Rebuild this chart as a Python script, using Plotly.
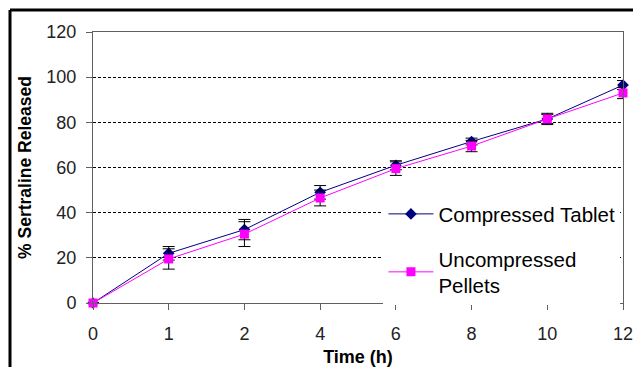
import plotly.graph_objects as go

times = ["0", "1", "2", "4", "6", "8", "10", "12"]
tablet = [0, 22, 32.5, 49, 61, 71.5, 81.5, 96.5]
tablet_err = [0, 3, 4.5, 3, 2, 1.5, 2, 2]
pellets = [0, 19.5, 30.5, 46.5, 59.5, 69.5, 81.5, 93]
pellets_err = [0, 4.5, 5.5, 3.5, 3, 2.5, 2.5, 2.5]
yticks = [0, 20, 40, 60, 80, 100, 120]

FONT = "Liberation Sans, Arial, sans-serif"

fig = go.Figure()
fig.add_trace(go.Scatter(
    x=times, y=tablet, name="Compressed Tablet", mode="lines+markers",
    legendgroup="a",
    line=dict(color="#000080", width=1),
    marker=dict(symbol="diamond", size=9, color="#000080"),
    error_y=dict(type="data", array=tablet_err, color="black", thickness=1, width=6),
    cliponaxis=False,
))
fig.add_trace(go.Scatter(
    x=times, y=pellets, name="Uncompressed<br>Pellets", mode="lines+markers",
    legendgroup="b",
    line=dict(color="#FF00FF", width=1),
    marker=dict(symbol="square", size=9, color="#FF00FF"),
    error_y=dict(type="data", array=pellets_err, color="black", thickness=1, width=6),
    cliponaxis=False,
))

axis_common = dict(
    showline=True, linecolor="#606060", linewidth=1, mirror=True,
    ticks="outside", ticklen=6, tickcolor="#606060",
    tickfont=dict(family=FONT, size=18, color="#222"),
    zeroline=False, automargin=False,
)

fig.update_layout(
    width=633, height=367,
    margin=dict(l=93, r=10, t=32, b=64),
    paper_bgcolor="white", plot_bgcolor="white",
    font=dict(family=FONT, color="black"),
    showlegend=True,
    legend=dict(
        x=0.548, y=0.402, xanchor="left", yanchor="top",
        bgcolor="white", borderwidth=0,
        font=dict(family=FONT, size=20.5, color="black"),
        itemwidth=45, tracegroupgap=15,
    ),
    xaxis=dict(
        type="category", range=[0, 7], showgrid=False,
        title=dict(text="<b>Time (h)</b>", font=dict(family=FONT, size=18), standoff=7),
        ticklabelstandoff=8,
        **axis_common,
    ),
    yaxis=dict(
        range=[0, 120], tickvals=yticks, showgrid=True,
        gridcolor="black", gridwidth=1, griddash="3px,2px",
        title=dict(text="<b>% Sertraline Released</b>", font=dict(family=FONT, size=17.5), standoff=10),
        ticklabelstandoff=6,
        **axis_common,
    ),
)

# outer frame (top and left black border lines)
fig.add_shape(type="line", xref="paper", yref="paper",
              x0=(10 - 93) / 530, x1=(633 - 93) / 530, y0=(303 - 10) / 271, y1=(303 - 10) / 271,
              line=dict(color="black", width=3))
fig.add_shape(type="line", xref="paper", yref="paper",
              x0=(10 - 93) / 530, x1=(10 - 93) / 530, y0=(303 - 10) / 271, y1=(303 - 380) / 271,
              line=dict(color="black", width=3))

fig.write_html("out.html")
